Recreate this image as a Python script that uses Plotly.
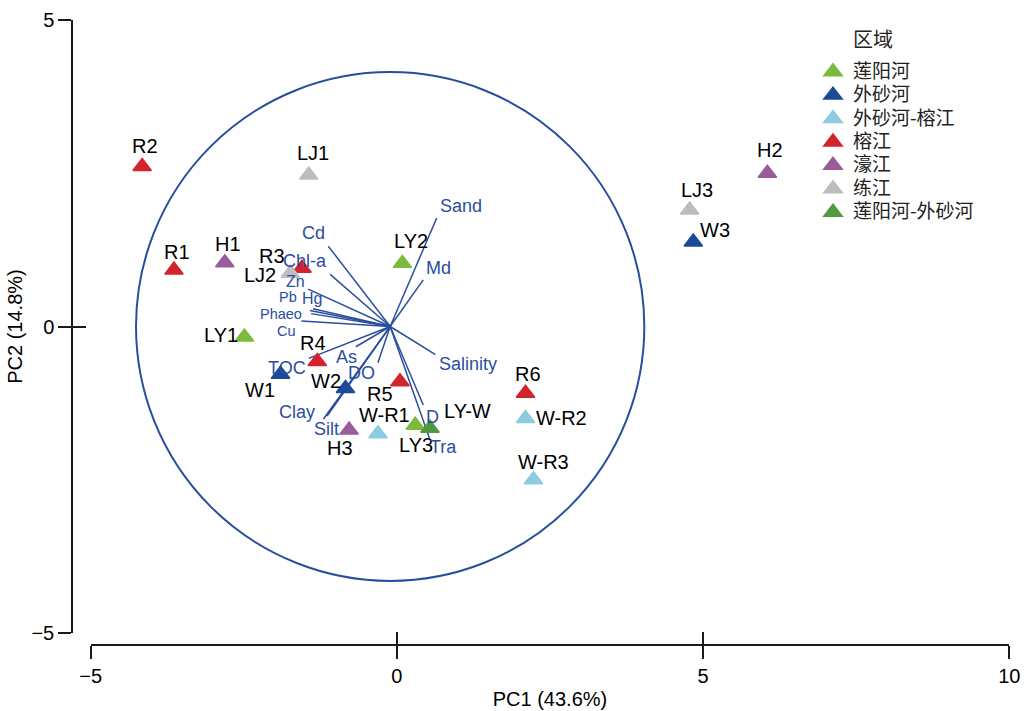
import plotly.graph_objects as go

# ---- sample scores (PC1, PC2) ----
samples = ["R1", "R2", "R3", "R4", "R5", "R6",
           "LY1", "LY2", "LY3",
           "W1", "W2", "W3",
           "W-R1", "W-R2", "W-R3",
           "H1", "H2", "H3",
           "LJ1", "LJ2", "LJ3",
           "LY-W"]
groups = ["榕江"] * 6 + ["莲阳河"] * 3 + ["外砂河"] * 3 + ["外砂河-榕江"] * 3 + \
         ["濠江"] * 3 + ["练江"] * 3 + ["莲阳河-外砂河"]
pc1 = [-3.64, -4.16, -1.55, -1.30, 0.05, 2.10,
       -2.49, 0.09, 0.30,
       -1.90, -0.84, 4.84,
       -0.31, 2.10, 2.23,
       -2.81, 6.05, -0.78,
       -1.44, -1.74, 4.78,
       0.54]
pc2 = [0.92, 2.61, 0.95, -0.57, -0.90, -1.09,
       -0.17, 1.03, -1.61,
       -0.78, -1.01, 1.38,
       -1.75, -1.50, -2.50,
       1.04, 2.50, -1.69,
       2.47, 0.87, 1.90,
       -1.66]

# ---- environmental variable loadings (relative to biplot origin) ----
variables = ["Sand", "Md", "Cd", "Chl-a", "Zn", "Hg", "Pb", "Phaeo", "Cu",
             "TOC", "As", "DO", "Clay", "Silt", "Salinity", "D", "Tra"]
load1 = [0.76, 0.54, -1.01, -0.98, -1.34, -1.26, -1.31, -1.29, -1.45,
         -1.33, -0.56, -0.20, -1.09, -1.03, 0.74, 0.54, 0.64]
load2 = [1.77, 0.76, 1.31, 0.85, 0.61, 0.29, 0.26, 0.21, 0.09,
         -0.52, -0.33, -0.59, -1.51, -1.46, -0.46, -1.28, -1.82]
origin = (-0.11, 0.0)
circle_radius = 4.15

group_order = ["莲阳河", "外砂河", "外砂河-榕江", "榕江", "濠江", "练江", "莲阳河-外砂河"]
group_colors = {
    "莲阳河": "#7cba3d",
    "外砂河": "#1d4a96",
    "外砂河-榕江": "#8ccbe0",
    "榕江": "#d3232c",
    "濠江": "#9a5b9b",
    "练江": "#bdbdbf",
    "莲阳河-外砂河": "#4f9a3e",
}

# label placement (pixel offsets from the marker), dx right, dy down
sample_label_offset = {
    "R1": (3, -18), "R2": (3, -21), "R3": (-30, -12), "R4": (-4, -18),
    "R5": (-20, 12), "R6": (2, -19), "LY1": (-23, -2), "LY2": (9, -22),
    "LY3": (1, 20), "W1": (-21, 16), "W2": (-19, -7), "W3": (22, -12),
    "W-R1": (7, -19), "W-R2": (36, 0), "W-R3": (10, -18), "H1": (3, -19),
    "H2": (3, -23), "H3": (-9, 18), "LJ1": (4, -22), "LJ2": (-30, 2),
    "LJ3": (7, -20), "LY-W": (38, -17),
}
var_label_offset = {
    "Sand": (24, -12), "Md": (15, -12), "Cd": (-15, -13), "Chl-a": (-25, -13),
    "Zn": (-13, -8), "Hg": (-1, -10), "Pb": (-22, -14), "Phaeo": (-30, 0),
    "Cu": (-15, 10), "TOC": (-22, 10), "As": (-9, 10), "DO": (-16, 10),
    "Clay": (-26, -7), "Silt": (-1, 13), "Salinity": (33, 9), "D": (9, 12),
    "Tra": (14, 9),
}
var_label_size = {"Zn": 16, "Hg": 16, "Pb": 14.5, "Phaeo": 14.5, "Cu": 14.5}

VEC_COLOR = "#2a4e9e"
AXIS_COLOR = "#1a1a1a"
TEXT_FONT = "Arial, Liberation Sans, sans-serif"
CJK_FONT = "Noto Sans CJK SC, sans-serif"

fig = go.Figure()

# loading vectors as line segments from the origin
vx, vy = [], []
for a, b in zip(load1, load2):
    vx += [origin[0], origin[0] + a, None]
    vy += [origin[1], origin[1] + b, None]
fig.add_trace(go.Scatter(x=vx, y=vy, mode="lines",
                         line=dict(color=VEC_COLOR, width=1.5),
                         showlegend=False, hoverinfo="skip"))

# sample points, one trace per region
for g in group_order:
    idx = [i for i, gg in enumerate(groups) if gg == g]
    fig.add_trace(go.Scatter(
        x=[pc1[i] for i in idx], y=[pc2[i] for i in idx],
        mode="markers",
        name='<span style="font-size:19px">%s</span>' % g,
        marker=dict(symbol="triangle-up", size=16, color=group_colors[g],
                    line=dict(color=group_colors[g], width=1.5)),
    ))

# helper traces so the inner-tick overlay axes get drawn
fig.add_trace(go.Scatter(x=[0], y=[0], xaxis="x", yaxis="y2", mode="markers",
                         marker=dict(opacity=0), showlegend=False, hoverinfo="skip"))
fig.add_trace(go.Scatter(x=[0], y=[0], xaxis="x2", yaxis="y", mode="markers",
                         marker=dict(opacity=0), showlegend=False, hoverinfo="skip"))

# correlation circle
fig.add_shape(type="circle", xref="x", yref="y",
              x0=origin[0] - circle_radius, x1=origin[0] + circle_radius,
              y0=origin[1] - circle_radius, y1=origin[1] + circle_radius,
              line=dict(color=VEC_COLOR, width=2), layer="below")

annotations = []
for name, x, y in zip(samples, pc1, pc2):
    dx, dy = sample_label_offset[name]
    annotations.append(dict(x=x, y=y, xref="x", yref="y", text=name,
                            showarrow=False, xshift=dx, yshift=-dy,
                            font=dict(family=TEXT_FONT, size=20, color="#000")))
for name, a, b in zip(variables, load1, load2):
    dx, dy = var_label_offset[name]
    annotations.append(dict(x=origin[0] + a, y=origin[1] + b, xref="x", yref="y",
                            text=name, showarrow=False, xshift=dx, yshift=-dy,
                            font=dict(family=TEXT_FONT,
                                      size=var_label_size.get(name, 18),
                                      color=VEC_COLOR)))
annotations.append(dict(x=851 / 1026, y=1 - 38 / 711, xref="paper", yref="paper",
                        text="区域", showarrow=False, xanchor="left", yanchor="middle",
                        font=dict(family=CJK_FONT, size=20, color="#222")))

XDOM = [90.7 / 1026, 1009.3 / 1026]
YDOM = [1 - 633 / 711, 1 - 20 / 711]
XPOS = 1 - 645 / 711
YPOS = 72 / 1026
axis_common = dict(showgrid=False, zeroline=False, tickcolor=AXIS_COLOR,
                   tickwidth=1.5, ticklen=13, automargin=False)
label_font = dict(family=TEXT_FONT, size=20, color="#000")

fig.update_layout(
    width=1026, height=711,
    margin=dict(l=0, r=0, t=0, b=0),
    plot_bgcolor="white", paper_bgcolor="white",
    annotations=annotations,
    xaxis=dict(domain=XDOM, range=[-5, 10], anchor="free", position=XPOS,
               showline=True, linecolor=AXIS_COLOR, linewidth=1.5,
               ticks="outside", tickvals=[-5, 0, 5, 10], tickfont=label_font,
               title=dict(text="PC1 (43.6%)", font=label_font, standoff=5),
               **axis_common),
    yaxis=dict(domain=YDOM, range=[-5, 5], anchor="free", position=YPOS,
               showline=True, linecolor=AXIS_COLOR, linewidth=1.5,
               ticks="outside", tickvals=[-5, 0, 5], tickfont=label_font,
               title=dict(text="PC2 (14.8%)", font=label_font, standoff=2),
               **axis_common),
    xaxis2=dict(overlaying="x", domain=XDOM, range=[-5, 10], anchor="free",
                position=XPOS, side="bottom",
                ticks="inside", tickvals=[-5, 0, 5, 10], showticklabels=False,
                showline=False, **axis_common),
    yaxis2=dict(overlaying="y", domain=YDOM, range=[-5, 5], anchor="free",
                position=YPOS, side="left",
                ticks="inside", tickvals=[-5, 0, 5], showticklabels=False,
                showline=False, **axis_common),
    legend=dict(x=813 / 1026, y=1 - 55 / 711, xanchor="left", yanchor="top",
                bgcolor="rgba(0,0,0,0)", tracegroupgap=0,
                font=dict(family=CJK_FONT, size=15.7, color="#222")),
)

fig.write_html("out.html")
